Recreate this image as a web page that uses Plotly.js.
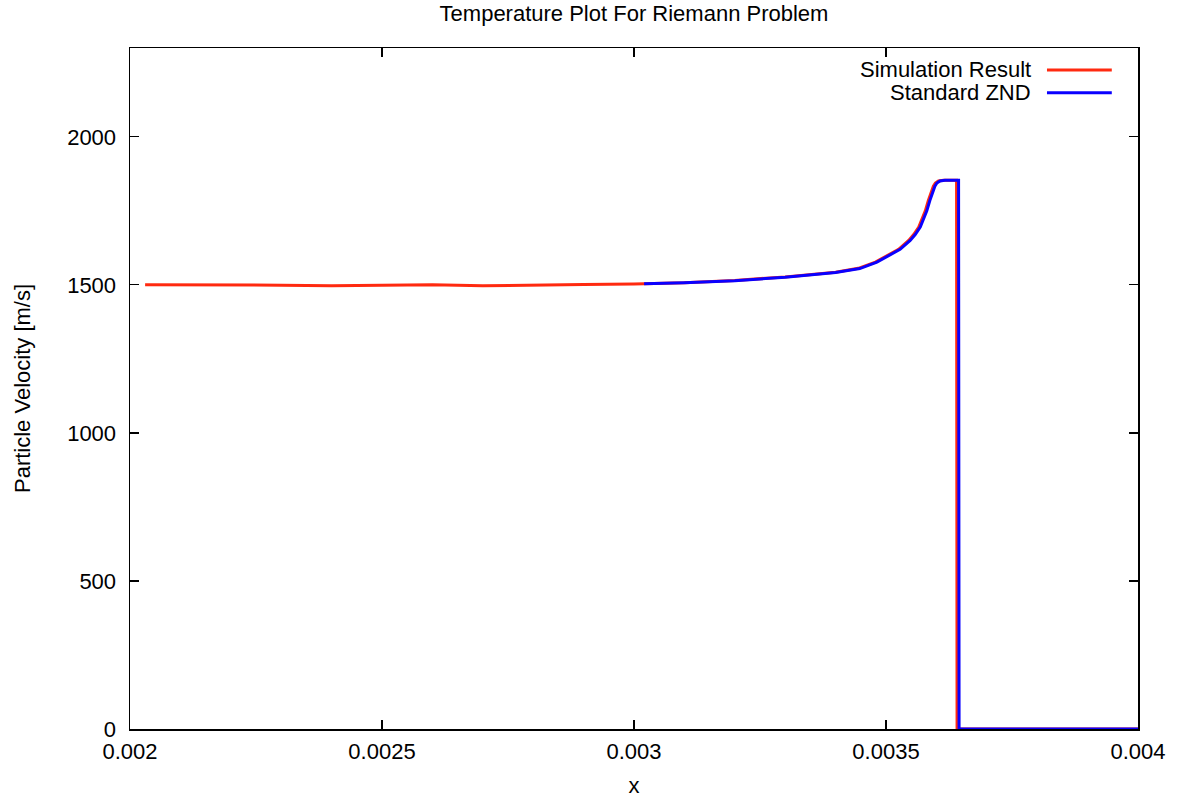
<!DOCTYPE html>
<html>
<head>
<meta charset="utf-8">
<script src="https://cdn.plot.ly/plotly-3.0.1.min.js"></script>
<style>html,body{margin:0;padding:0;background:#fff;}#chart{width:1179px;height:800px;}</style>
</head>
<body>
<div id="chart"></div>
<script>
// Simulation Result (red)
var simX = [0.00203, 0.0021, 0.0022, 0.0023, 0.0024, 0.0025, 0.0026, 0.0027, 0.0028, 0.0029, 0.0030,
            0.0031, 0.0032, 0.0033, 0.0034, 0.003445, 0.003479, 0.003511, 0.003525, 0.003545, 0.003555,
            0.003565, 0.003572, 0.003578, 0.003584, 0.003590, 0.003594, 0.003598, 0.003604, 0.003614,
            0.003630, 0.003640, 0.003641, 0.0038, 0.004];
var simY = [1500, 1500, 1500, 1499, 1497, 1499, 1500, 1497, 1498, 1501, 1503,
            1507, 1515, 1527, 1543, 1556, 1577, 1605, 1620, 1650, 1670,
            1695, 1722, 1750, 1785, 1815, 1833, 1844, 1851, 1853,
            1853, 1853, 0, 0, 0];
// Standard ZND (blue)
var zndX = [0.00302, 0.0031, 0.0032, 0.0033, 0.0034, 0.003448, 0.003482, 0.003514, 0.003528, 0.003548, 0.003558,
            0.003568, 0.003575, 0.003581, 0.003587, 0.003593, 0.003597, 0.003601, 0.003607, 0.003617,
            0.003633, 0.003644, 0.003645, 0.0038, 0.004];
var zndY = [1504, 1507, 1514, 1526, 1542, 1555, 1577, 1605, 1620, 1650, 1670,
            1695, 1722, 1750, 1785, 1815, 1833, 1844, 1851, 1853,
            1853, 1853, 0, 0, 0];

var xTicks = [0.002, 0.0025, 0.003, 0.0035, 0.004];
var xTickText = ["0.002", "0.0025", "0.003", "0.0035", "0.004"];
var yTicks = [0, 500, 1000, 1500, 2000];
var yTickText = ["0", "500", "1000", "1500", "2000"];
var seriesNames = ["Simulation Result", "Standard ZND"];
var seriesColors = ["#ff2a10", "#0a00ff"];

var font = "Liberation Sans, Arial, Helvetica, sans-serif";
var fs = 22;

var traces = [
  {x: simX, y: simY, mode: "lines", name: seriesNames[0], line: {color: seriesColors[0], width: 3}, showlegend: false},
  {x: zndX, y: zndY, mode: "lines", name: seriesNames[1], line: {color: seriesColors[1], width: 3}, showlegend: false}
];

var annotations = [];
var shapes = [];
seriesNames.forEach(function(n, i){
  var yp = 0.9677 - i*0.0335;
  annotations.push({xref: "paper", yref: "paper", x: 0.8955, y: yp, xanchor: "right", yanchor: "middle",
    text: n, showarrow: false, font: {family: font, size: fs, color: "#000"}});
  shapes.push({type: "line", xref: "paper", yref: "paper", x0: 0.9097, x1: 0.974, y0: yp, y1: yp,
    line: {color: seriesColors[i], width: 3}});
});

var layout = {
  width: 1179, height: 800,
  margin: {l: 130, r: 41, t: 48, b: 71},
  paper_bgcolor: "#fff", plot_bgcolor: "#fff",
  font: {family: font, size: fs, color: "#000"},
  title: {text: "Temperature Plot For Riemann Problem", xref: "paper", x: 0.5, xanchor: "center",
          yref: "container", y: 0.984, yanchor: "middle",
          font: {family: font, size: fs, color: "#000"}},
  xaxis: {range: [0.002, 0.004], tickvals: xTicks, ticktext: xTickText, ticks: "inside", ticklen: 9,
          tickwidth: 1.2, tickcolor: "#000", showline: true, linecolor: "#000", linewidth: 1.5, mirror: "ticks",
          showgrid: false, zeroline: false, ticklabelstandoff: 2,
          title: {text: "x", font: {family: font, size: fs}, standoff: 14}},
  yaxis: {range: [0, 2300], tickvals: yTicks, ticktext: yTickText, ticks: "inside", ticklen: 9,
          tickwidth: 1.2, tickcolor: "#000", showline: true, linecolor: "#000", linewidth: 1.5, mirror: "ticks",
          showgrid: false, zeroline: false, ticklabelstandoff: 8,
          title: {text: "Particle Velocity [m/s]", font: {family: font, size: fs}, standoff: 30}},
  annotations: annotations,
  shapes: shapes,
  showlegend: false
};

Plotly.newPlot("chart", traces, layout, {displayModeBar: false, staticPlot: true});
</script>
</body>
</html>
